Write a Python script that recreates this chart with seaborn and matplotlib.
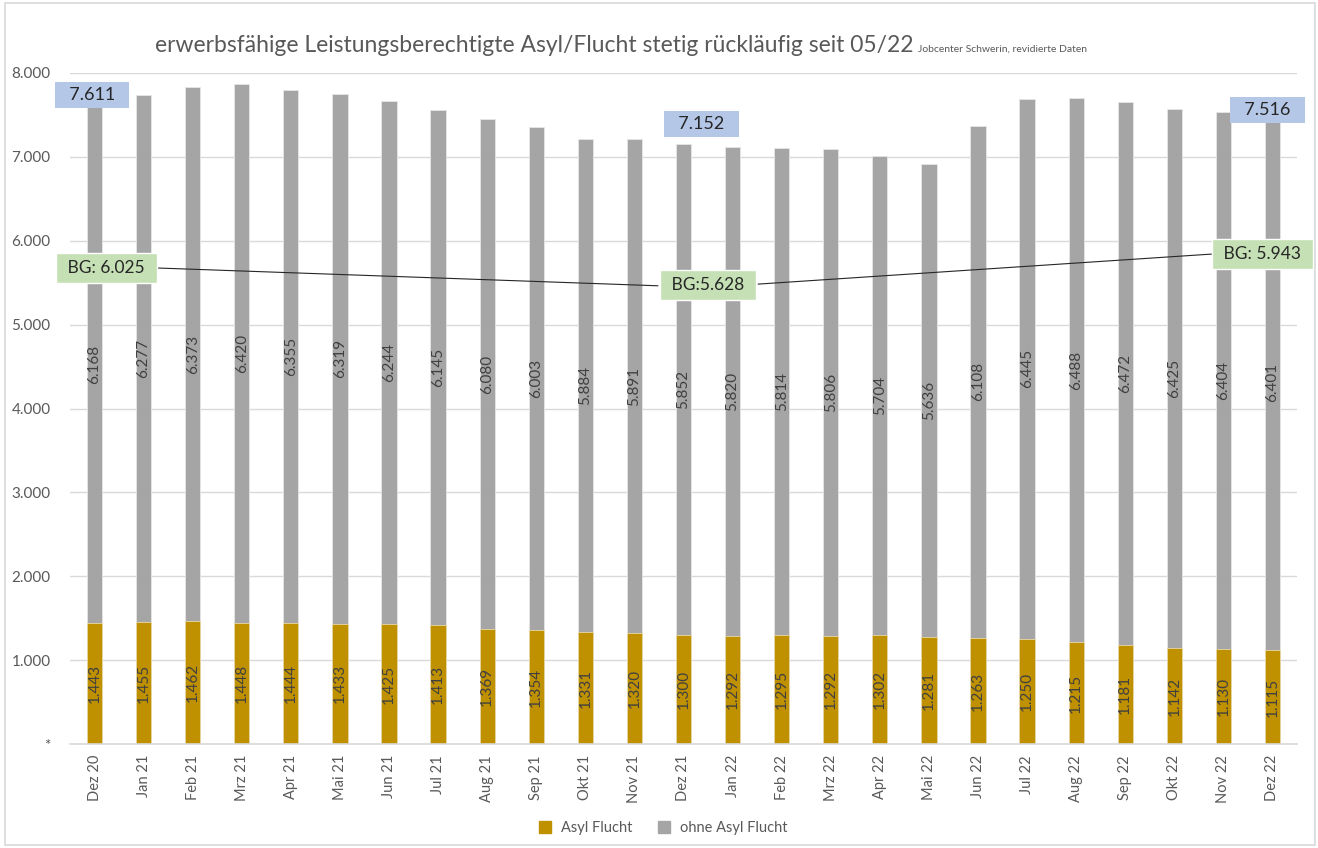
import matplotlib
matplotlib.use("Agg")
import matplotlib.pyplot as plt
import seaborn as sns
import pandas as pd
from matplotlib.patches import Rectangle
from matplotlib.lines import Line2D

months = ["Dez 20", "Jan 21", "Feb 21", "Mrz 21", "Apr 21", "Mai 21", "Jun 21", "Jul 21",
          "Aug 21", "Sep 21", "Okt 21", "Nov 21", "Dez 21", "Jan 22", "Feb 22", "Mrz 22",
          "Apr 22", "Mai 22", "Jun 22", "Jul 22", "Aug 22", "Sep 22", "Okt 22", "Nov 22", "Dez 22"]
asyl = [1443, 1455, 1462, 1448, 1444, 1433, 1425, 1413, 1369, 1354, 1331, 1320, 1300, 1292,
        1295, 1292, 1302, 1281, 1263, 1250, 1215, 1181, 1142, 1130, 1115]
ohne = [6168, 6277, 6373, 6420, 6355, 6319, 6244, 6145, 6080, 6003, 5884, 5891, 5852, 5820,
        5814, 5806, 5704, 5636, 6108, 6445, 6488, 6472, 6425, 6404, 6401]
yticks = [0, 1000, 2000, 3000, 4000, 5000, 6000, 7000, 8000]
ytick_labels = ["*", "1.000", "2.000", "3.000", "4.000", "5.000", "6.000", "7.000", "8.000"]
total_labels = ["7.611", "7.152", "7.516"]
bg_labels = ["BG: 6.025", "BG:5.628", "BG: 5.943"]

sns.set_theme(style="white")
plt.rcParams['font.family'] = ['Lato', 'DejaVu Sans']

GOLD = "#BF9000"
GRAY = "#A5A5A5"
TXT = "#595959"

df = pd.DataFrame({"Monat": months, "Asyl": asyl, "Ohne": ohne})
df["Total"] = df["Asyl"] + df["Ohne"]

fig = plt.figure(figsize=(13.18, 8.48), dpi=100)
ax = fig.add_axes([70/1318, 1-744/848, (1297-70)/1318, (744-73)/848])

sns.barplot(data=df, x="Monat", y="Total", color=GRAY, width=0.31, ax=ax,
            saturation=1, order=months, linewidth=0.6, edgecolor="#E6E6E6")
sns.barplot(data=df, x="Monat", y="Asyl", color=GOLD, width=0.31, ax=ax,
            saturation=1, order=months, linewidth=0.6, edgecolor="#E8D9A8")

ax.set_ylim(0, 8000)
ax.set_xlim(-0.5, len(months) - 0.5)
ax.set_yticks(yticks)
ax.set_yticklabels(ytick_labels, fontsize=11, color=TXT)
ax.set_xlabel("")
ax.set_ylabel("")
ax.tick_params(axis="x", labelrotation=90, labelsize=10.5, labelcolor=TXT, length=0, pad=8)
ax.tick_params(axis="y", length=0, pad=14)
ax.grid(axis="y", color="#D9D9D9", lw=1)
ax.set_axisbelow(True)
for s in ["left", "right", "top"]:
    ax.spines[s].set_visible(False)
ax.spines["bottom"].set_color("#D9D9D9")
ax.spines["bottom"].set_linewidth(1.2)

def fmt(v):
    return f"{v:,}".replace(",", ".")

for i, (a, o) in enumerate(zip(asyl, ohne)):
    ax.text(i, a / 2, fmt(a), rotation=90, ha="center", va="center", fontsize=11, color="#404040")
    ax.text(i, a + o / 2, fmt(o), rotation=90, ha="center", va="center", fontsize=11, color="#404040")

# total boxes (light blue)
blue_pos = [(-0.05, 7740), (12.37, 7390), (23.9, 7560)]
for (x, y), t in zip(blue_pos, total_labels):
    ax.text(x, y, "  " + t + "  ", ha="center", va="center", fontsize=13, color="#262626",
            bbox=dict(boxstyle="square,pad=0.28", fc="#B4C7E7", ec="none"))

# BG boxes (light green) with connecting lines
bg_pos = [(0.24, 5676), (12.5, 5473), (23.8, 5843)]
half_w = [1.0, 1.02, 0.99]
ax.plot([bg_pos[0][0] + half_w[0], bg_pos[1][0] - half_w[1]],
        [bg_pos[0][1], bg_pos[1][1] - 10], color="#262626", lw=0.8, zorder=4)
ax.plot([bg_pos[1][0] + half_w[1], bg_pos[2][0] - half_w[2]],
        [bg_pos[1][1] + 10, bg_pos[2][1]], color="#262626", lw=0.8, zorder=4)
for (x, y), t in zip(bg_pos, bg_labels):
    ax.text(x, y, " " + t + " ", ha="center", va="center", fontsize=12.5, color="#262626", zorder=5,
            bbox=dict(boxstyle="square,pad=0.42", fc="#C5E0B4", ec="white", lw=1))

# Title
fig.text(155/1318, 1-52/848, "erwerbsfähige Leistungsberechtigte Asyl/Flucht stetig rückläufig seit 05/22",
         fontsize=16.5, color=TXT, ha="left", va="baseline")
fig.text(918/1318, 1-52/848, "Jobcenter Schwerin, revidierte Daten",
         fontsize=7.5, color=TXT, ha="left", va="baseline")

# Legend
handles = [Line2D([], [], marker="s", ls="none", color=GOLD, markersize=8),
           Line2D([], [], marker="s", ls="none", color=GRAY, markersize=8)]
fig.legend(handles, ["Asyl Flucht", "ohne Asyl Flucht"], loc="center",
           bbox_to_anchor=(0.5, 1-828/848), ncol=2, frameon=False, fontsize=10.5,
           labelcolor=TXT, handletextpad=0.1, columnspacing=1.2)

# Frame
fig.patches.append(Rectangle((5/1318, 3/848), 1310/1318, 842/848, transform=fig.transFigure,
                             fill=False, ec="#D9D9D9", lw=1.2))

fig.savefig("out.png", dpi=100)
